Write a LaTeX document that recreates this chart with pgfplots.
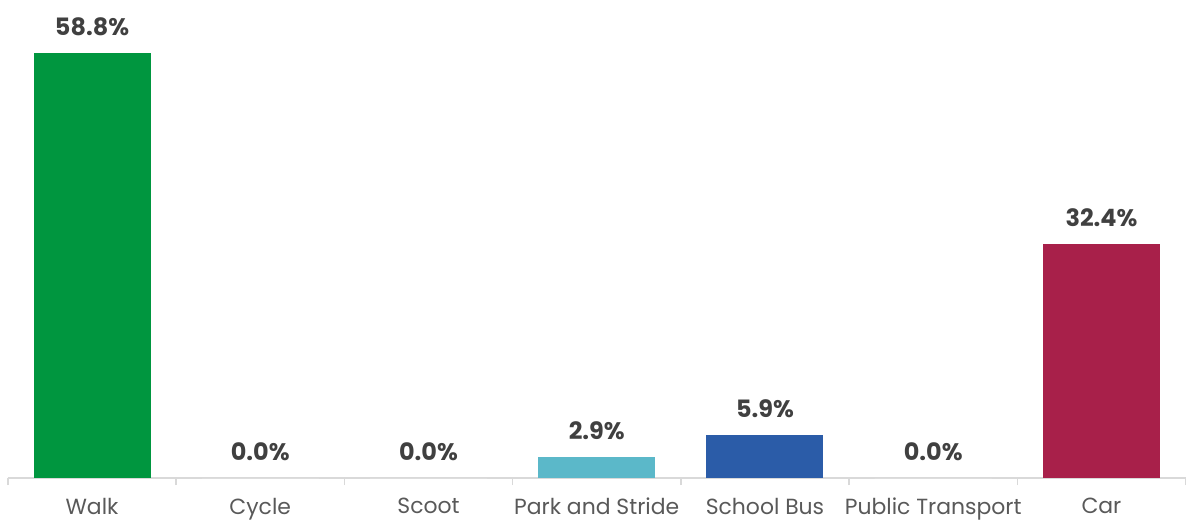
\documentclass[border=0pt]{standalone}
\usepackage{pgfplots}
\pgfplotsset{compat=1.18}
\usepackage{fontspec}
\setmainfont{Poppins}
\definecolor{cWalk}{HTML}{00963F}
\definecolor{cPark}{HTML}{5BB8C9}
\definecolor{cBus}{HTML}{2B5CA8}
\definecolor{cCar}{HTML}{A8204A}
\definecolor{lab}{HTML}{404040}
\definecolor{tick}{HTML}{595959}
\definecolor{axc}{HTML}{D9D9D9}
\begin{document}
\begin{tikzpicture}
\begin{axis}[
  scale only axis,
  width=1177.7bp, height=433.6bp,
  xmin=-0.5, xmax=6.5, ymin=0, ymax=60,
  axis x line=bottom, axis y line=none,
  axis line style={draw=axc, line width=1.5bp, -},
  xtick={0,...,6},
  xticklabels={Walk,Cycle,Scoot,Park and Stride,School Bus,Public Transport,Car},
  major tick length=0pt,
  extra x ticks={-0.5,0.5,1.5,2.5,3.5,4.5,5.5,6.5},
  extra x tick labels={},
  extra x tick style={major tick length=7bp, tick align=outside, tick style={draw=axc, line width=1.5bp}},
  x tick label style={font=\fontsize{22}{25}\selectfont, text=tick, anchor=north, yshift=-16.5bp},
  ybar, bar width=117bp, bar shift=0pt,
  /pgf/number format/assume math mode=true,
  nodes near coords={\pgfmathprintnumber[fixed,zerofill,precision=1]{\pgfplotspointmeta}\%},
  every node near coord/.append style={font=\fontsize{24}{28}\selectfont\bfseries, text=lab, anchor=south, yshift=14bp},
  clip=false,
]
\addplot[fill=cWalk, draw=none] coordinates {(0,58.8)};
\addplot[fill=white, draw=none] coordinates {(1,0.0)};
\addplot[fill=white, draw=none] coordinates {(2,0.0)};
\addplot[fill=cPark, draw=none] coordinates {(3,2.9)};
\addplot[fill=cBus, draw=none] coordinates {(4,5.9)};
\addplot[fill=white, draw=none] coordinates {(5,0.0)};
\addplot[fill=cCar, draw=none] coordinates {(6,32.4)};
\end{axis}
\pgfresetboundingbox
\path (-7.9bp,-43bp) rectangle (1180.1bp,478bp);
\end{tikzpicture}
\end{document}
